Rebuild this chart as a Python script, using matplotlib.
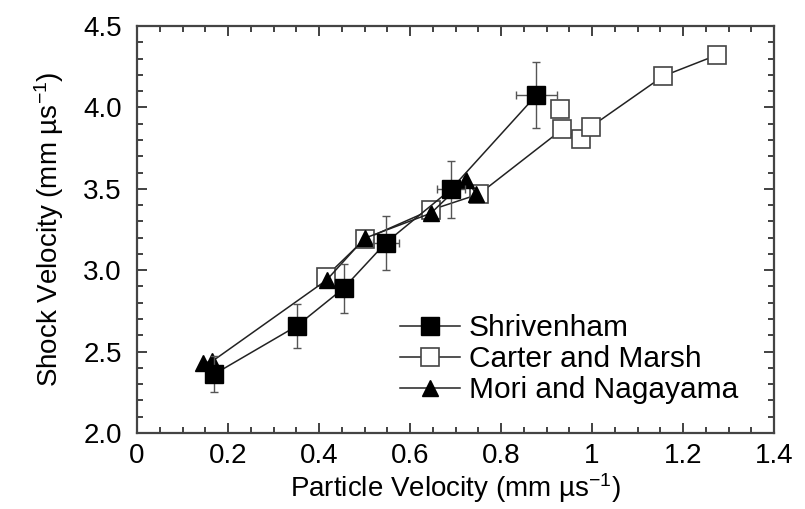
import numpy as np
import matplotlib
matplotlib.use("Agg")
import matplotlib.pyplot as plt
from matplotlib.ticker import MultipleLocator

plt.rcParams["font.family"] = ["Liberation Sans", "DejaVu Sans"]
plt.rcParams["mathtext.fontset"] = "custom"
plt.rcParams["mathtext.rm"] = "Liberation Sans"
plt.rcParams["mathtext.it"] = "Liberation Sans"

# Shrivenham (filled squares, with error bars)
shr_x = [0.170, 0.351, 0.454, 0.547, 0.690, 0.878]
shr_y = [2.362, 2.657, 2.889, 3.169, 3.497, 4.076]
shr_xerr = [0.010, 0.010, 0.015, 0.028, 0.030, 0.045]
shr_yerr = [0.11, 0.135, 0.15, 0.165, 0.175, 0.20]

# Carter and Marsh (open squares)
car_x = [0.415, 0.500, 0.646, 0.752, 0.935, 0.975, 0.997, 1.157, 1.275]
car_y = [2.960, 3.190, 3.370, 3.468, 3.866, 3.805, 3.880, 4.193, 4.322]
car_extra_x = [0.929]
car_extra_y = [3.990]

# Mori and Nagayama (filled triangles)
mor_x = [0.145, 0.165, 0.417, 0.500, 0.646, 0.723, 0.746]
mor_y = [2.430, 2.440, 2.940, 3.196, 3.350, 3.556, 3.468]

fig = plt.figure(figsize=(8.05, 5.09), dpi=100)
ax = fig.add_axes([137 / 805, 1 - 433 / 509, (774 - 137) / 805, (433 - 26) / 509])

lc = "#222222"
h_car, = ax.plot(car_x, car_y, "-s", color=lc, lw=1.1, ms=13, mfc="white", mec="#444444",
                 mew=1.2, zorder=2)
ax.plot(car_extra_x, car_extra_y, "s", ms=13, mfc="white", mec="#444444", mew=1.2, zorder=2)
h_mor, = ax.plot(mor_x, mor_y, "-^", color=lc, lw=1.1, ms=11.5, mfc="black", mec="black",
                 zorder=3)
ax.errorbar(shr_x, shr_y, xerr=shr_xerr, yerr=shr_yerr, fmt="none", ecolor="#555555",
            elinewidth=1.0, capsize=3, zorder=4)
h_shr, = ax.plot(shr_x, shr_y, "-s", color=lc, lw=1.1, ms=13, mfc="black", mec="black",
                 zorder=5)

ax.set_xlim(0, 1.4)
ax.set_ylim(2.0, 4.5)
ax.xaxis.set_minor_locator(MultipleLocator(0.05))
ax.yaxis.set_major_locator(MultipleLocator(0.5))
ax.yaxis.set_minor_locator(MultipleLocator(0.1))
ax.set_xticks([0, 0.2, 0.4, 0.6, 0.8, 1.0, 1.2, 1.4])
ax.set_xticklabels(["0", "0.2", "0.4", "0.6", "0.8", "1", "1.2", "1.4"])
ax.yaxis.set_major_formatter(matplotlib.ticker.FormatStrFormatter("%.1f"))

ax.tick_params(which="both", direction="in", top=True, right=True, colors="#333333",
               labelcolor="black", labelsize=20, width=1.3)
ax.tick_params(which="major", length=7, pad=7)
ax.tick_params(which="minor", length=4)
ax.tick_params(axis="y", which="major", pad=11)
for s in ax.spines.values():
    s.set_linewidth(1.6)
    s.set_color("#444444")

ax.set_xlabel("Particle Velocity (mm µs$^{-1}$)", fontsize=20, labelpad=2)
ax.set_ylabel("Shock Velocity (mm µs$^{-1}$)", fontsize=20, labelpad=12)

ax.legend([h_shr, h_car, h_mor], ["Shrivenham", "Carter and Marsh", "Mori and Nagayama"],
          frameon=False, fontsize=21.5, loc="upper left",
          bbox_to_anchor=(400 / 805, 1 - 314 / 509), bbox_transform=fig.transFigure,
          borderpad=0, borderaxespad=0, handlelength=2.0, handletextpad=0.3,
          labelspacing=0.1)

plt.savefig("out.png", dpi=100)
